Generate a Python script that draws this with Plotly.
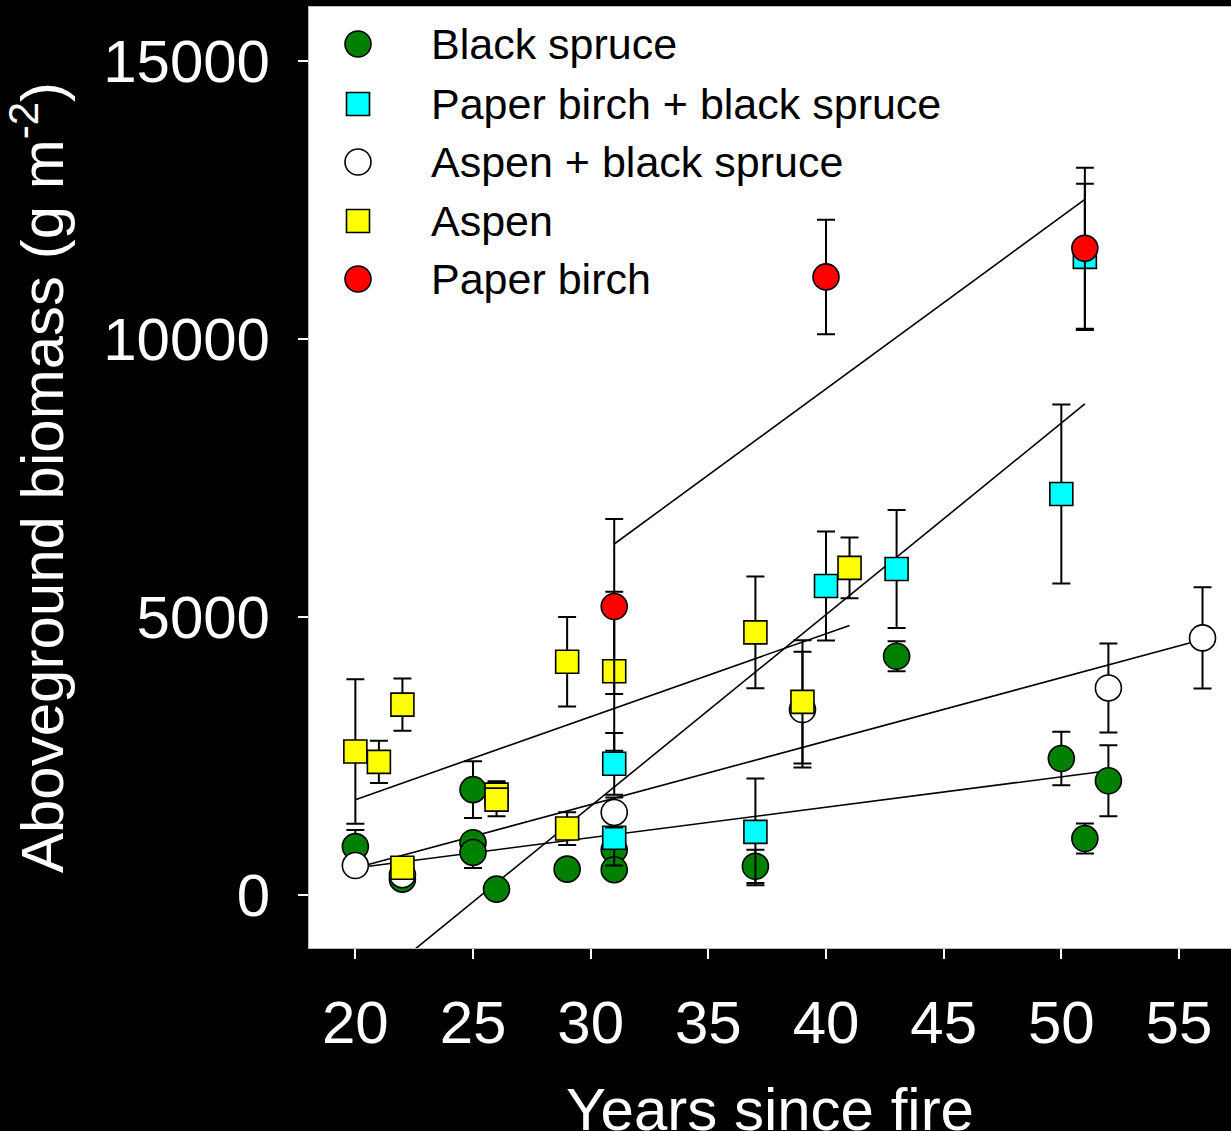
import plotly.graph_objects as go

# ---- data ----
series_names = ["Black spruce", "Paper birch + black spruce", "Aspen + black spruce", "Aspen", "Paper birch"]

bs_x = [20, 22, 25, 25, 25, 26, 29, 31, 31, 37, 43, 50, 51, 52]
bs_y = [865, 280, 1890, 935, 760, 100, 460, 810, 450, 510, 4290, 2450, 1010, 2050]
bs_e = [300, None, 510, None, 280, None, None, None, None, 300, 270, 480, 270, 640]

pbbs_x = [31, 31, 37, 40, 43, 50, 51]
pbbs_y = [2355, 1025, 1130, 5555, 5860, 7210, 11475]
pbbs_e = [555, 500, 960, 980, 1060, 1610, 1315]

abs_x = [20, 22, 31, 39, 52, 56]
abs_y = [525, 360, 1480, 3330, 3720, 4620]
abs_e = [None, None, 270, 1040, 800, 910]

asp_x = [20, 21, 22, 22, 26, 26, 29, 29, 31, 37, 39, 41]
asp_y = [2575, 2390, 3420, 485, 1800, 1710, 4190, 1190, 4020, 4720, 3470, 5880]
asp_e = [1300, 380, 470, None, 240, 300, 805, 295, 1430, 1005, 1110, 545]

pb_x = [31, 40, 51]
pb_y = [5185, 11115, 11630]
pb_e = [1575, 1030, 1450]

# regression lines (end points)
fit_pb_x, fit_pb_y = [31, 51], [6310, 12510]
fit_pbbs_x, fit_pbbs_y = [20, 51], [-1853, 8830]
fit_asp_x, fit_asp_y = [20, 41], [1710, 4845]
fit_abs_x, fit_abs_y = [20, 56], [480, 4590]
fit_bs_x, fit_bs_y = [20, 52], [480, 2230]

x_ticks = [20, 25, 30, 35, 40, 45, 50, 55]
y_ticks = [0, 5000, 10000, 15000]
y_tick_labels = ["0", "5000", "10000", "15000"]
x_title = "Years since fire"
y_title = "Aboveground biomass (g m<sup>-2</sup>)"

# ---- style ----
FONT = "Liberation Sans, Arial, sans-serif"
styles = [
    dict(symbol="circle", color="#008000", size=26),
    dict(symbol="square", color="#00FFFF", size=23),
    dict(symbol="circle", color="#FFFFFF", size=26),
    dict(symbol="square", color="#FFFF00", size=23),
    dict(symbol="circle", color="#FF0000", size=26),
]
data_sets = [(bs_x, bs_y, bs_e), (pbbs_x, pbbs_y, pbbs_e), (abs_x, abs_y, abs_e),
             (asp_x, asp_y, asp_e), (pb_x, pb_y, pb_e)]
fits = [(fit_pb_x, fit_pb_y), (fit_pbbs_x, fit_pbbs_y), (fit_asp_x, fit_asp_y),
        (fit_abs_x, fit_abs_y), (fit_bs_x, fit_bs_y)]

fig = go.Figure()

for fx, fy in fits:
    fig.add_trace(go.Scatter(x=fx, y=fy, mode="lines", line=dict(color="black", width=1.6),
                             showlegend=False, hoverinfo="skip"))

for (xs, ys, es), st, nm in zip(data_sets, styles, series_names):
    fig.add_trace(go.Scatter(
        x=xs, y=ys, mode="markers", name=nm, showlegend=False,
        marker=dict(symbol=st["symbol"], color=st["color"], size=st["size"],
                    line=dict(color="black", width=1.6)),
        error_y=dict(type="data", array=[e if e is not None else float("nan") for e in es],
                     symmetric=True, color="black", thickness=2, width=9),
    ))

# legend drawn on an overlay axis (paper-like coordinates)
leg_rows_px = [44, 104, 162, 221, 279]
top_px, bottom_px = 7, 948
leg_y = [(bottom_px - r) / (bottom_px - top_px) for r in leg_rows_px]
leg_mx = (358 - 309) / 922
leg_tx = (429 - 309) / 922
for st, nm, yy in zip(styles, series_names, leg_y):
    fig.add_trace(go.Scatter(
        x=[leg_mx], y=[yy], xaxis="x2", yaxis="y2", mode="markers", showlegend=False,
        hoverinfo="skip",
        marker=dict(symbol=st["symbol"], color=st["color"], size=st["size"],
                    line=dict(color="black", width=1.6)),
    ))
    fig.add_annotation(x=leg_tx, y=yy, xref="x2", yref="y2", text=nm, showarrow=False,
                       xanchor="left", yanchor="middle",
                       font=dict(family=FONT, size=43, color="black"))

# x-axis title (partly below the picture's edge, as in the reference)
fig.add_annotation(x=0.5, y=0, xref="paper", yref="paper", yshift=-126, text=x_title,
                   showarrow=False, xanchor="center", yanchor="top",
                   font=dict(family=FONT, size=60, color="white"))

fig.update_layout(
    width=1231, height=1131,
    paper_bgcolor="black", plot_bgcolor="white",
    margin=dict(l=309, r=0, t=7, b=183),
    font=dict(family=FONT, color="white"),
    xaxis=dict(range=[18.03, 57.21], tickvals=x_ticks, ticks="outside", ticklen=10,
               tickwidth=2, tickcolor="white", showgrid=False, zeroline=False,
               showline=True, linecolor="#bbbbbb", linewidth=1, mirror=True, automargin=False,
               tickfont=dict(size=60, color="white", family=FONT), ticklabelstandoff=12),
    yaxis=dict(range=[-959, 15971], tickvals=y_ticks, ticktext=y_tick_labels, ticks="outside",
               ticklen=10, tickwidth=2, tickcolor="white", showgrid=False, zeroline=False,
               showline=True, linecolor="#bbbbbb", linewidth=1, mirror=True, automargin=False,
               tickfont=dict(size=60, color="white", family=FONT), ticklabelstandoff=16,
               title=dict(text=y_title, font=dict(size=60, color="white", family=FONT),
                          standoff=22)),
    xaxis2=dict(overlaying="x", range=[0, 1], visible=False),
    yaxis2=dict(overlaying="y", range=[0, 1], visible=False),
    showlegend=False,
)

fig.write_html("out.html", config={"displayModeBar": False},
               post_script="document.body.style.margin='0px';")
